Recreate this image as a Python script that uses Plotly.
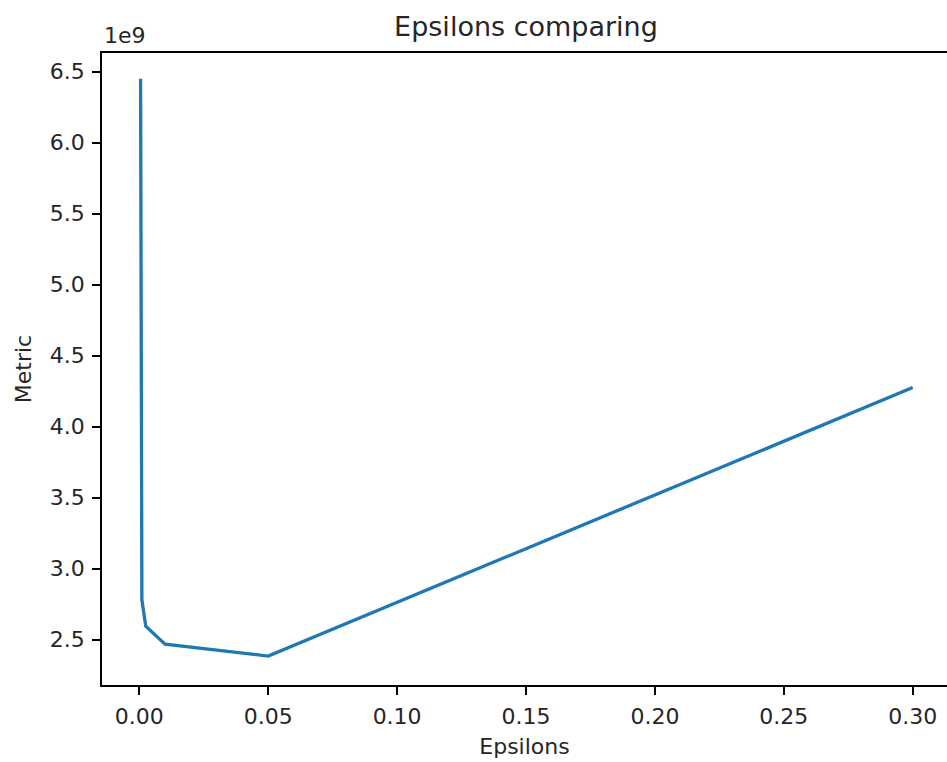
import plotly.graph_objects as go

epsilons = [0.0005, 0.001, 0.0025, 0.01, 0.05, 0.3]
metric = [6.45e9, 2.78e9, 2.594e9, 2.468e9, 2.384e9, 4.275e9]

x_ticks = [0.0, 0.05, 0.10, 0.15, 0.20, 0.25, 0.30]
y_ticks = [2.5e9, 3.0e9, 3.5e9, 4.0e9, 4.5e9, 5.0e9, 5.5e9, 6.0e9, 6.5e9]
y_tick_labels = ["2.5", "3.0", "3.5", "4.0", "4.5", "5.0", "5.5", "6.0", "6.5"]

FONT = "DejaVu Sans"
TXT = "#262626"
FS = 22

fig = go.Figure()
fig.add_trace(go.Scatter(
    x=epsilons, y=metric, mode="lines",
    line=dict(color="#1f77b4", width=3.3),
    hoverinfo="skip", showlegend=False,
))

fig.update_layout(
    width=947, height=762,
    margin=dict(l=102, r=0, t=53, b=77),
    paper_bgcolor="white", plot_bgcolor="white",
    font=dict(family=FONT, size=FS, color=TXT),
    title=dict(text="Epsilons comparing", x=526/947, xanchor="center",
               y=1 - 27/762, yanchor="middle", xref="container",
               font=dict(family=FONT, size=27, color=TXT)),
    showlegend=False,
)

fig.update_xaxes(
    range=[-0.01447, 0.3133], tickvals=x_ticks, tickformat=".2f",
    showgrid=False, zeroline=False,
    showline=True, linecolor="black", linewidth=1.7, mirror=True,
    ticks="outside", ticklen=8, tickwidth=1.7, tickcolor="black",
    ticklabelstandoff=3,
    tickfont=dict(family=FONT, size=FS, color=TXT),
    title=dict(text="Epsilons", font=dict(family=FONT, size=FS, color=TXT), standoff=10),
)
fig.update_yaxes(
    range=[2.18e9, 6.632e9], tickvals=y_ticks, ticktext=y_tick_labels,
    showgrid=False, zeroline=False,
    showline=True, linecolor="black", linewidth=1.7, mirror=False,
    ticks="outside", ticklen=8, tickwidth=1.7, tickcolor="black",
    ticklabelstandoff=3,
    tickfont=dict(family=FONT, size=FS, color=TXT),
    title=dict(text="Metric", font=dict(family=FONT, size=FS, color=TXT), standoff=12),
)

fig.add_annotation(
    text="1e9", xref="paper", yref="paper", x=0, y=1,
    xanchor="left", yanchor="bottom", showarrow=False, yshift=3,
    font=dict(family=FONT, size=FS, color=TXT),
)

fig.write_html("out.html")
